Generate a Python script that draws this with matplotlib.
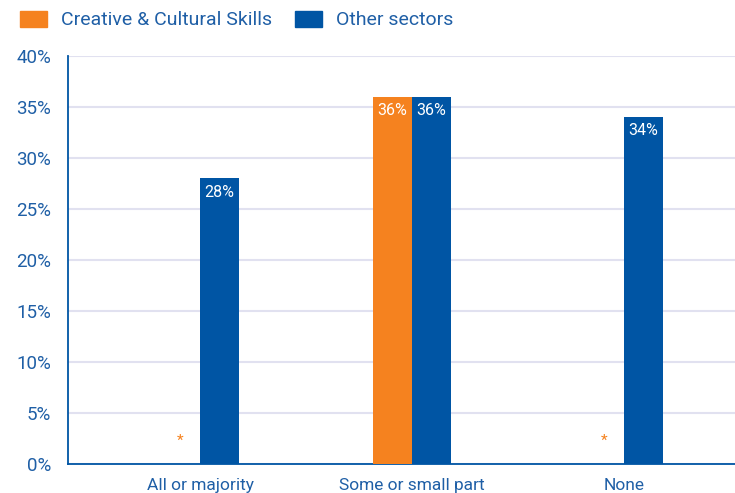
import matplotlib.pyplot as plt
import matplotlib.patches as mpatches
import numpy as np

plt.rcParams['font.family'] = ['Roboto', 'DejaVu Sans']

categories = ['All or majority', 'Some or small part', 'None']
creative = [None, 36, None]   # None = suppressed (shown as *)
other = [28, 36, 34]
series_names = ['Creative & Cultural Skills', 'Other sectors']

orange = '#F5821F'
blue = '#0055A4'
text_col = '#1F5FA6'
grid_col = '#E1E1F0'

fig = plt.figure(figsize=(7.35, 4.93), dpi=100)
ax = fig.add_axes([0.0925, 0.0588, 0.9075, 0.8276])

x = np.arange(len(categories))
w = 0.184

for i in range(len(categories)):
    if creative[i] is None:
        ax.text(x[i] - w / 2, 2.3, '*', color=orange, ha='center', va='center', fontsize=11)
    else:
        ax.bar(x[i] - w / 2, creative[i], w, color=orange, zorder=3)
        ax.text(x[i] - w / 2, creative[i] - 0.6, f'{creative[i]}%', color='white',
                ha='center', va='top', fontsize=11.5)
    ax.bar(x[i] + w / 2, other[i], w, color=blue, zorder=3)
    ax.text(x[i] + w / 2, other[i] - 0.6, f'{other[i]}%', color='white',
            ha='center', va='top', fontsize=11.5)

ax.set_xlim(-0.623, 2.524)
ax.set_ylim(0, 40)
ax.set_yticks(range(0, 41, 5))
ax.set_yticklabels([f'{v}%' for v in range(0, 41, 5)])
ax.set_xticks(x)
ax.set_xticklabels(categories)
ax.tick_params(axis='both', length=0, colors=text_col, labelsize=13.5)
ax.tick_params(axis='x', pad=10, labelsize=12.5)
ax.tick_params(axis='y', pad=12)
ax.yaxis.grid(True, color=grid_col, linewidth=1.5, zorder=0)
ax.set_axisbelow(True)
for s in ['top', 'right']:
    ax.spines[s].set_visible(False)
for s in ['left', 'bottom']:
    ax.spines[s].set_color(blue)
    ax.spines[s].set_linewidth(1.3)

handles = [mpatches.Patch(color=orange), mpatches.Patch(color=blue)]
fig.legend(handles, series_names, loc='upper left', bbox_to_anchor=(0.003, 1.014),
           ncol=2, frameon=False, fontsize=14, labelcolor=text_col,
           handlelength=1.4, handleheight=0.9, handletextpad=0.7, columnspacing=1.2)

plt.savefig('out.png', dpi=100)
